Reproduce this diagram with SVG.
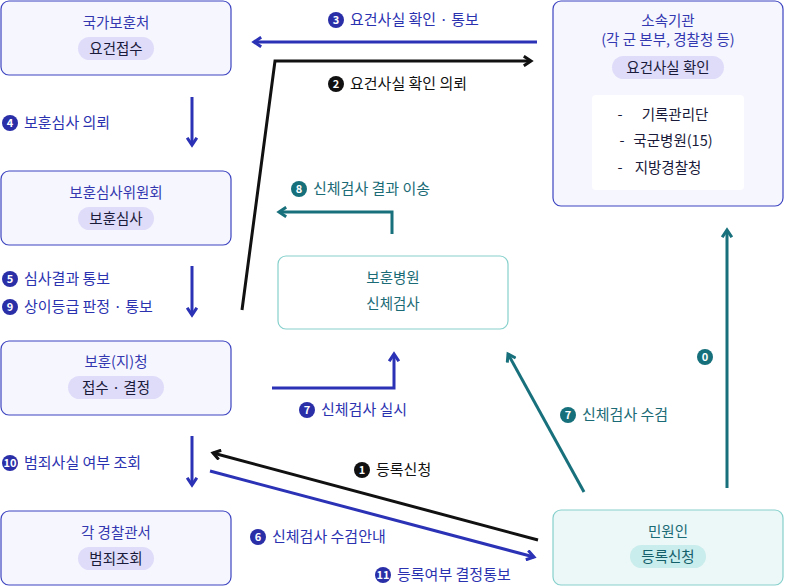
<svg xmlns="http://www.w3.org/2000/svg" width="785" height="586" viewBox="0 0 785 586">
<style>
text{font-family:"Noto Sans CJK KR","Noto Sans",sans-serif;font-size:14.5px}
.b{fill:#f6f6fe;stroke:#3d44c0;stroke-width:1.2}
.t{fill:#ecf8f8;stroke:#86d0cc;stroke-width:1.2}
.pill{fill:#dedcf9}
.tpill{fill:#c9ecec}
.nt{fill:#3338b0;text-anchor:middle}
.tt{fill:#1a6b76;text-anchor:middle}
.pt{fill:#1a1a3a;text-anchor:middle}
.lb{fill:#2b32b0;font-size:15px}
.lt{fill:#1a6b76;font-size:15px}
.lk{fill:#111;font-size:15px}
.cb{fill:#2a2fa8}.ct{fill:#16707b}.ck{fill:#111}
.cn{fill:#fff;font-size:11px;text-anchor:middle;font-weight:bold}
.ab{stroke:#2b32b5;stroke-width:3;fill:none}
.at{stroke:#17707b;stroke-width:3;fill:none}
.ak{stroke:#111;stroke-width:3;fill:none}
</style>
<defs>
<marker id="mb" viewBox="0 0 10 10" refX="7" refY="5" markerWidth="4" markerHeight="4" orient="auto"><path d="M1,1 L7,5 L1,9" fill="none" stroke="#2b32b5" stroke-width="2.5"/></marker>
<marker id="mt" viewBox="0 0 10 10" refX="7" refY="5" markerWidth="4" markerHeight="4" orient="auto"><path d="M1,1 L7,5 L1,9" fill="none" stroke="#17707b" stroke-width="2.5"/></marker>
<marker id="mk" viewBox="0 0 10 10" refX="7" refY="5" markerWidth="4" markerHeight="4" orient="auto"><path d="M1,1 L7,5 L1,9" fill="none" stroke="#111" stroke-width="2.5"/></marker>
</defs>
<g id="n1"><rect class="b" x="1" y="1" width="230" height="74" rx="8"/><text class="nt" x="116" y="28">국가보훈처</text><rect class="pill" x="78" y="37" width="76" height="23" rx="11.5"/><text class="pt" x="116" y="54">요건접수</text></g>
<g id="n2"><rect class="b" x="1" y="171" width="230" height="74" rx="8"/><text class="nt" x="116" y="198">보훈심사위원회</text><rect class="pill" x="78" y="207" width="76" height="23" rx="11.5"/><text class="pt" x="116" y="224">보훈심사</text></g>
<g id="n3"><rect class="b" x="1" y="341" width="230" height="74" rx="8"/><text class="nt" x="116" y="367">보훈(지)청</text><rect class="pill" x="68" y="376" width="96" height="23" rx="11.5"/><text class="pt" x="116" y="393">접수 · 결정</text></g>
<g id="n4"><rect class="b" x="1" y="511" width="230" height="74" rx="8"/><text class="nt" x="116" y="538">각 경찰관서</text><rect class="pill" x="78" y="547" width="76" height="23" rx="11.5"/><text class="pt" x="116" y="564">범죄조회</text></g>
<g id="n5"><rect class="b" x="553" y="1" width="230" height="205" rx="8"/><text class="nt" x="668" y="26">소속기관</text><text class="nt" x="668" y="45">(각 군 본부, 경찰청 등)</text><rect class="pill" x="612" y="56" width="112" height="23" rx="11.5"/><text class="pt" x="668" y="73">요건사실 확인</text>
<rect x="592" y="95" width="152" height="95" rx="4" fill="#fff"/>
<text class="pt" x="620" y="120">-</text><text class="pt" x="675" y="120">기록관리단</text>
<text class="pt" x="622" y="146">-</text><text class="pt" x="673" y="146">국군병원(15)</text>
<text class="pt" x="620" y="173">-</text><text class="pt" x="668" y="173">지방경찰청</text></g>
<g id="n6"><rect class="t" style="fill:#fff" x="278" y="256" width="230" height="73" rx="8"/><text class="tt" x="393" y="283">보훈병원</text><text class="tt" x="393" y="309">신체검사</text></g>
<g id="n7"><rect class="t" x="553" y="510" width="230" height="75" rx="8"/><text class="tt" x="668" y="537">민원인</text><rect class="tpill" x="630" y="545" width="76" height="23" rx="11.5"/><text class="tt" x="668" y="562" style="fill:#14606a">등록신청</text></g>
<g id="connectors">
<path class="ab" d="M537,42 H254" marker-end="url(#mb)"/>
<path class="ak" d="M242,310 L275,61 H531" marker-end="url(#mk)"/>
<path class="ab" d="M192,97 V145" marker-end="url(#mb)"/>
<path class="ab" d="M192,266 V315" marker-end="url(#mb)"/>
<path class="at" d="M392,234 V212 H279" marker-end="url(#mt)"/>
<path class="ab" d="M272,388 H394 V354" marker-end="url(#mb)"/>
<path class="ab" d="M192,436 V485" marker-end="url(#mb)"/>
<path class="ak" d="M538,540 L213,453" marker-end="url(#mk)"/>
<path class="ab" d="M210,471 L534,557" marker-end="url(#mb)"/>
<path class="at" d="M584,492 L508,354" marker-end="url(#mt)"/>
<path class="at" d="M727,488 V230" marker-end="url(#mt)"/>
<circle class="cb" cx="336" cy="20" r="8"/><text class="cn" x="336" y="24">3</text><text class="lb" x="350" y="25">요건사실 확인 · 통보</text>
<circle class="ck" cx="336" cy="84" r="8"/><text class="cn" x="336" y="88">2</text><text class="lk" x="350" y="89">요건사실 확인 의뢰</text>
<circle class="cb" cx="10" cy="123" r="8"/><text class="cn" x="10" y="127">4</text><text class="lb" x="24" y="128">보훈심사 의뢰</text>
<circle class="cb" cx="10" cy="279" r="8"/><text class="cn" x="10" y="283">5</text><text class="lb" x="24" y="284">심사결과 통보</text>
<circle class="cb" cx="10" cy="307" r="8"/><text class="cn" x="10" y="311">9</text><text class="lb" x="24" y="312">상이등급 판정 · 통보</text>
<circle class="ct" cx="299" cy="189" r="8"/><text class="cn" x="299" y="193">8</text><text class="lt" x="313" y="194">신체검사 결과 이송</text>
<circle class="cb" cx="307" cy="410" r="8"/><text class="cn" x="307" y="414">7</text><text class="lb" x="321" y="415">신체검사 실시</text>
<circle class="ct" cx="568" cy="415" r="8"/><text class="cn" x="568" y="419">7</text><text class="lt" x="582" y="420">신체검사 수검</text>
<circle class="ct" cx="705" cy="357" r="8"/><text class="cn" x="705" y="361">0</text>
<circle class="cb" cx="10" cy="463" r="8"/><text class="cn" x="10" y="467">10</text><text class="lb" x="24" y="468">범죄사실 여부 조회</text>
<circle class="ck" cx="362" cy="470" r="8"/><text class="cn" x="362" y="474">1</text><text class="lk" x="376" y="475">등록신청</text>
<circle class="cb" cx="258" cy="537" r="8"/><text class="cn" x="258" y="541">6</text><text class="lb" x="272" y="542">신체검사 수검안내</text>
<circle class="cb" cx="383" cy="575" r="8"/><text class="cn" x="383" y="579">11</text><text class="lb" x="397" y="580">등록여부 결정통보</text>
</g>
</svg>
